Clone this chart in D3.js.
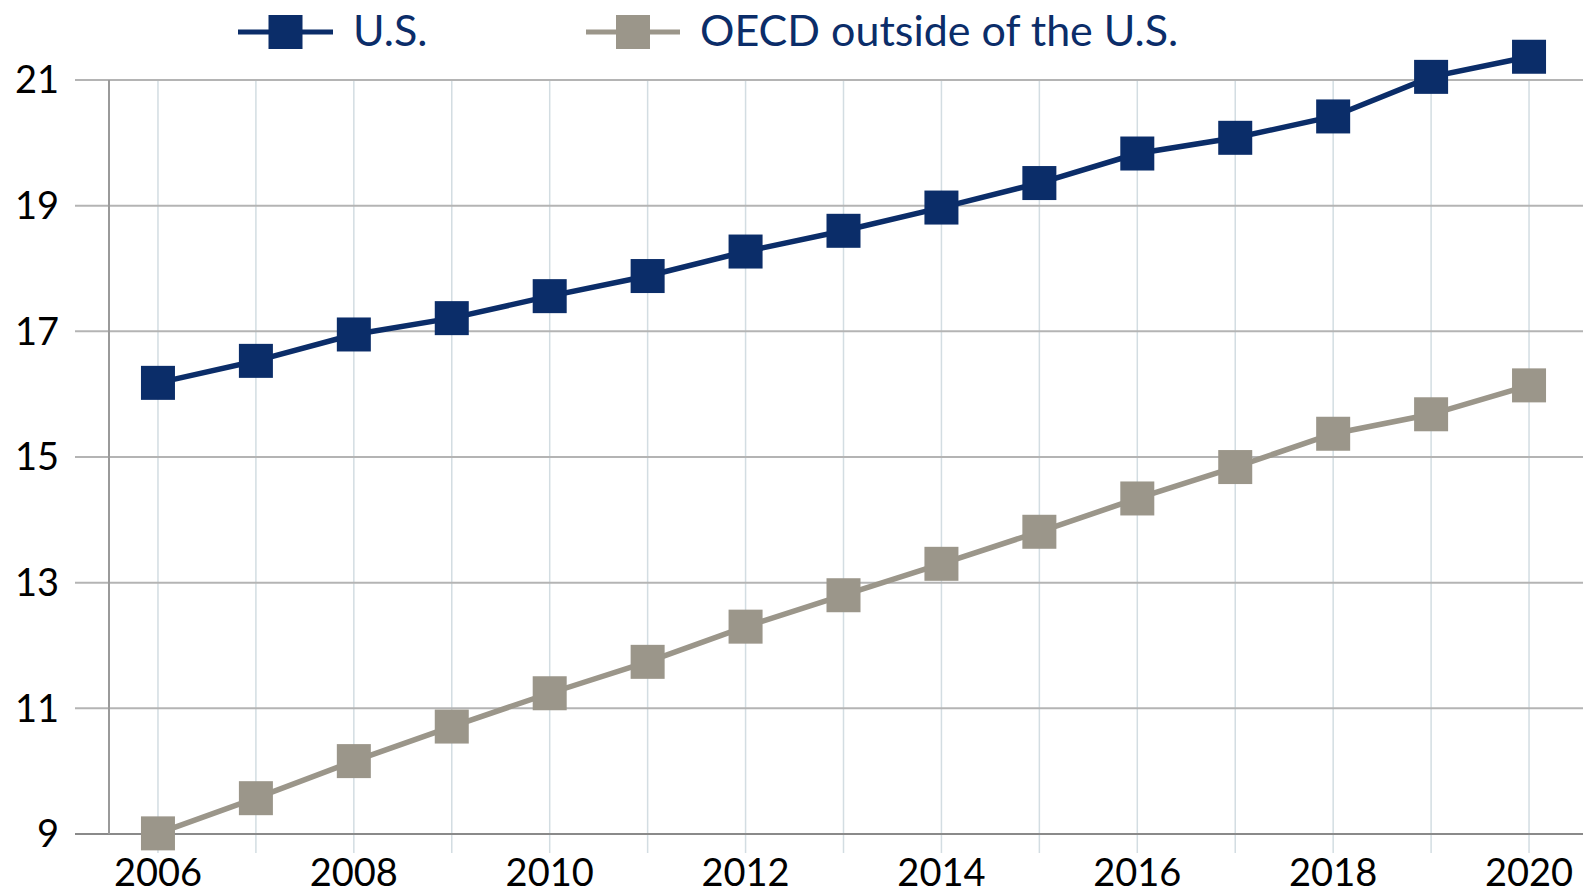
<!DOCTYPE html>
<html><head><meta charset="utf-8">
<script src="https://cdn.jsdelivr.net/npm/d3@7"></script>
<style>html,body{margin:0;padding:0;background:#fff;overflow:hidden}</style>
</head><body>
<svg id="c" width="1583" height="893"></svg>
<script>
const years = [2006,2007,2008,2009,2010,2011,2012,2013,2014,2015,2016,2017,2018,2019,2020];
const usValues = [16.18,16.53,16.95,17.21,17.56,17.88,18.27,18.60,18.97,19.36,19.83,20.08,20.42,21.05,21.37];
const oecdValues = [9.01,9.57,10.16,10.71,11.24,11.74,12.30,12.80,13.30,13.81,14.34,14.84,15.37,15.68,16.14];
const yTicks = [9,11,13,15,17,19,21];
const xTickLabels = [2006,2008,2010,2012,2014,2016,2018,2020];
const seriesNames = ["U.S.","OECD outside of the U.S."];

const svg = d3.select("#c");
const font = "Lato, 'Open Sans', sans-serif";
const usColor = "#0b2d69", oecdColor = "#9b968a";

const x = d3.scaleBand().domain(years).range([109, 1578]);
const cx = d => x(d) + x.bandwidth()/2;
const y = d3.scaleLinear().domain([9,21]).range([834,80]);

// vertical gridlines
svg.append("g").selectAll("line").data(years).join("line")
  .attr("x1", d=>cx(d)).attr("x2", d=>cx(d))
  .attr("y1", 80).attr("y2", 853)
  .attr("stroke", "#d3dde2").attr("stroke-width", 1.5);

// horizontal gridlines
svg.append("g").selectAll("line").data(yTicks).join("line")
  .attr("x1", 75).attr("x2", 1583)
  .attr("y1", d=>y(d)).attr("y2", d=>y(d))
  .attr("stroke", d=> d===9 ? "#8a8a8a" : "#b4b4b4").attr("stroke-width", 2);

// y axis line
svg.append("line").attr("x1",109).attr("x2",109).attr("y1",80).attr("y2",834)
  .attr("stroke","#9a9a9a").attr("stroke-width",2);

// y labels
svg.append("g").selectAll("text").data(yTicks).join("text")
  .attr("x", 59).attr("y", d=>y(d)).attr("dy","0.35em")
  .attr("text-anchor","end").attr("font-family",font).attr("font-size",38)
  .attr("fill","#000").text(d=>d);

// x labels
svg.append("g").selectAll("text").data(xTickLabels).join("text")
  .attr("x", d=>cx(d)).attr("y", 886)
  .attr("text-anchor","middle").attr("font-family",font).attr("font-size",38)
  .attr("fill","#000").text(d=>d);

const line = d3.line().x((d,i)=>cx(years[i])).y(d=>y(d));
function drawSeries(vals, color){
  svg.append("path").datum(vals).attr("d", line)
    .attr("fill","none").attr("stroke",color).attr("stroke-width",5.5);
  svg.append("g").selectAll("rect").data(vals).join("rect")
    .attr("x",(d,i)=>cx(years[i])-17).attr("y",d=>y(d)-17)
    .attr("width",34).attr("height",34).attr("fill",color);
}
drawSeries(oecdValues, oecdColor);
drawSeries(usValues, usColor);

// legend
const legend = [
  {name: seriesNames[0], color: usColor, x1: 238, x2: 333, tx: 353},
  {name: seriesNames[1], color: oecdColor, x1: 586, x2: 680, tx: 700}
];
const lg = svg.append("g");
legend.forEach(l=>{
  lg.append("line").attr("x1",l.x1).attr("x2",l.x2).attr("y1",32).attr("y2",32)
    .attr("stroke",l.color).attr("stroke-width",5);
  const m = (l.x1+l.x2)/2;
  lg.append("rect").attr("x",m-17).attr("y",15).attr("width",34).attr("height",34).attr("fill",l.color);
  lg.append("text").attr("x",l.tx).attr("y",31).attr("dy","0.35em")
    .attr("font-family",font).attr("font-size",43).attr("fill","#0b2d69").text(l.name);
});
</script>
</body></html>
